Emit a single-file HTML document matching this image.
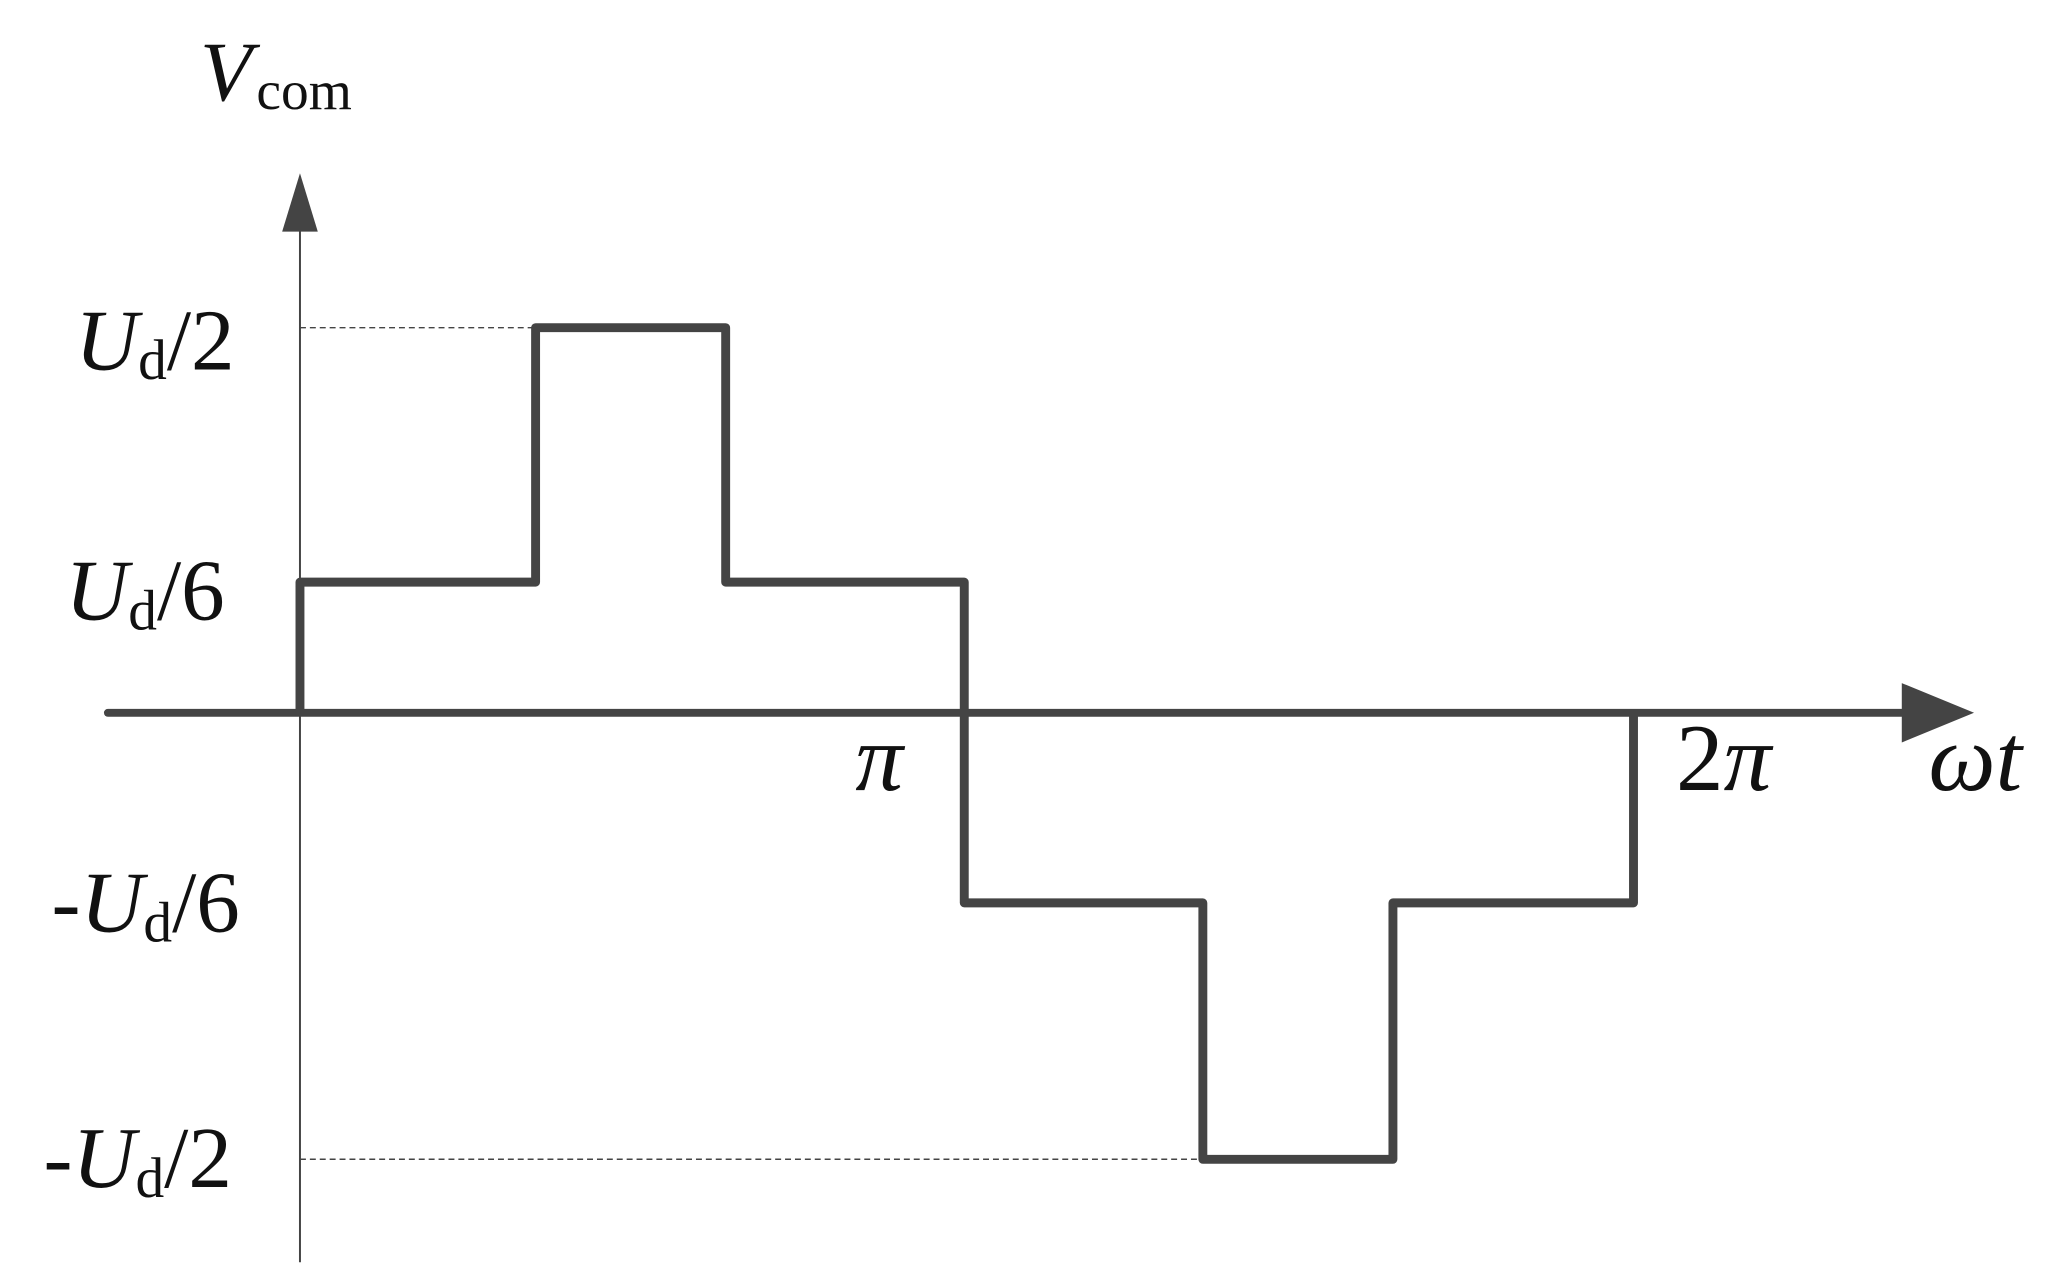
<!DOCTYPE html>
<html><head><meta charset="utf-8"><style>html,body{margin:0;padding:0;background:#fff}svg{display:block}</style></head>
<body>
<svg width="2057" height="1280" viewBox="0 0 2057 1280" xmlns="http://www.w3.org/2000/svg" font-family="'Liberation Serif', serif" fill="#111">
<g transform="scale(0.99)">
<line x1="303" y1="225" x2="303" y2="1275" stroke="#444" stroke-width="2"/>
<polygon points="303,175 285,234 321,234" fill="#444"/>
<line x1="109" y1="720" x2="1925" y2="720" stroke="#444" stroke-width="8" stroke-linecap="round"/>
<polygon points="1994,720 1921,690 1921,750" fill="#444"/>
<line x1="303" y1="331" x2="541" y2="331" stroke="#444" stroke-width="1.5" stroke-dasharray="6,4"/>
<line x1="303" y1="1171" x2="1215" y2="1171" stroke="#444" stroke-width="1.5" stroke-dasharray="6,4"/>
<polyline points="303,720 303,588 541,588 541,331 733,331 733,588 974,588 974,912 1215,912 1215,1171 1407,1171 1407,912 1650,912 1650,720" fill="none" stroke="#444" stroke-width="9" stroke-linejoin="round"/>
<text x="202" y="101" font-size="86" font-style="italic">V</text>
<text x="259" y="110" font-size="56">com</text>
<g font-size="88">
<text x="76" y="373"><tspan font-style="italic">U</tspan><tspan font-size="58" dy="10">d</tspan><tspan dy="-10">/2</tspan></text>
<text x="66" y="626"><tspan font-style="italic">U</tspan><tspan font-size="58" dy="10">d</tspan><tspan dy="-10">/6</tspan></text>
<text x="52" y="941">-<tspan font-style="italic">U</tspan><tspan font-size="58" dy="10">d</tspan><tspan dy="-10">/6</tspan></text>
<text x="44" y="1199">-<tspan font-style="italic">U</tspan><tspan font-size="58" dy="10">d</tspan><tspan dy="-10">/2</tspan></text>
<text x="864" y="798" font-style="italic" font-size="96">π</text>
<text x="1693" y="798" font-size="96">2<tspan font-style="italic">π</tspan></text>
<text x="1948" y="798" font-style="italic" font-size="96">ωt</text>
</g>
</g>
</svg>
</body></html>
